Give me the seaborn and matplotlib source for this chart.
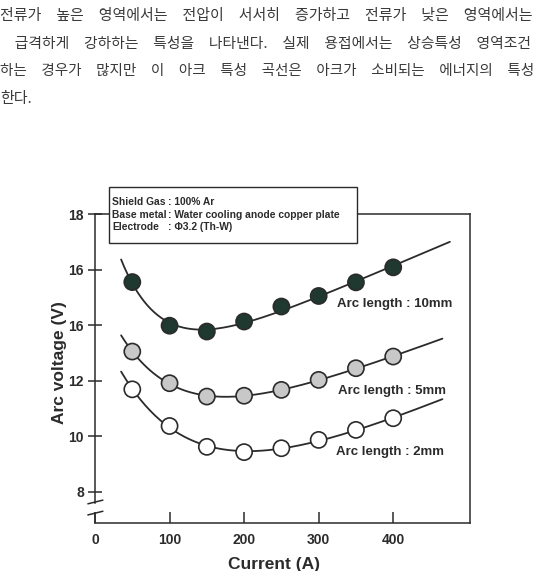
import matplotlib.pyplot as plt
from matplotlib.patches import Rectangle
import seaborn as sns
import pandas as pd
import numpy as np

# data
current = [50, 100, 150, 200, 250, 300, 350, 400]
volt_10mm = [15.55, 13.98, 13.77, 14.13, 14.67, 15.05, 15.54, 16.08]
volt_5mm = [13.05, 11.91, 11.43, 11.46, 11.67, 12.03, 12.45, 12.87]
volt_2mm = [11.69, 10.37, 9.62, 9.43, 9.57, 9.87, 10.23, 10.65]

arc_lengths = ["10mm", "5mm", "2mm"]
curve_span = {"10mm": (35, 476), "5mm": (35, 466), "2mm": (35, 466)}

x_ticks = [0, 100, 200, 300, 400]
y_ticks = [8, 10, 12, 14, 16, 18]
y_tick_labels = ["8", "10", "12", "16", "16", "18"]   # as printed in the source

box_keys = ["Shield Gas", "Base metal", "Electrode"]
box_vals = [": 100% Ar", ": Water cooling anode copper plate", ": \u03a63.2 (Th-W)"]

korean_lines = [
    "전류가 높은 영역에서는 전압이 서서히 증가하고 전류가 낮은 영역에서는",
    " 급격하게 강하하는 특성을 나타낸다. 실제 용접에서는 상승특성 영역조건",
    "하는 경우가 많지만 이 아크 특성 곡선은 아크가 소비되는 에너지의 특성",
    "한다.",
]
korean_sizes = [10.8, 10.65, 10.5, 10.8]   # justified lines in the scan

df = pd.DataFrame({
    "current": current * 3,
    "voltage": volt_10mm + volt_5mm + volt_2mm,
    "arc": [a for a in arc_lengths for _ in current],
})


def trend(x, y, span):
    # least squares fit of a + b*x + c*exp(-x/tau), tau picked by grid search
    x = np.asarray(x, float)
    y = np.asarray(y, float)
    best = None
    for tau in np.arange(56, 121, 2):
        A = np.column_stack([np.ones_like(x), x, np.exp(-x / tau)])
        coef = np.linalg.lstsq(A, y, rcond=None)[0]
        err = np.sum((A @ coef - y) ** 2)
        if best is None or err < best[0]:
            best = (err, tau, coef)
    _, tau, coef = best
    xs = np.linspace(span[0], span[1], 200)
    ys = coef[0] + coef[1] * xs + coef[2] * np.exp(-xs / tau)
    return pd.DataFrame({"current": xs, "voltage": ys})


sns.set_style("ticks")
plt.rcParams["font.family"] = ["Liberation Sans", "DejaVu Sans"]

ink = "#2b2b2b"
fig = plt.figure(figsize=(5.35, 5.71), dpi=100)
ax = fig.add_axes([0.1776, 0.0841, 0.7009, 0.5411])

for arc in arc_lengths:
    sub = df[df["arc"] == arc]
    fit = trend(sub["current"], sub["voltage"], curve_span[arc])
    sns.lineplot(data=fit, x="current", y="voltage", color=ink, lw=1.3,
                 zorder=2, ax=ax)

sns.scatterplot(data=df, x="current", y="voltage", hue="arc",
                palette={"10mm": "#1f3830", "5mm": "#c8c8c8", "2mm": "white"},
                s=135, edgecolor=ink, linewidth=1.2, legend=False, zorder=3, ax=ax)

ax.set_xlim(0, 503)
ax.set_ylim(6.88, 18)
ax.set_xticks(x_ticks)
ax.set_yticks(y_ticks)
ax.set_yticklabels(y_tick_labels)
ax.tick_params(axis="x", direction="in", length=8, width=1.1, pad=7,
               labelsize=10, colors=ink)
ax.tick_params(axis="y", direction="inout", length=10, width=1.1, pad=3,
               labelsize=10, colors=ink)
for lab in ax.get_xticklabels() + ax.get_yticklabels():
    lab.set_fontweight("bold")

for side in ["left", "right", "top", "bottom"]:
    ax.spines[side].set_visible(True)
    ax.spines[side].set_color(ink)
    ax.spines[side].set_linewidth(1.1)

# axis break on the left spine
ax.spines["left"].set_bounds(7.6, 18)
ax.plot([0, 0], [0, 0.032], transform=ax.transAxes, color=ink, lw=1.1, clip_on=False)
for yb in [0.068, 0.032]:
    ax.plot([-0.019, 0.021], [yb - 0.006, yb + 0.006], transform=ax.transAxes,
            color=ink, lw=1.1, clip_on=False)

ax.set_xlabel("Current (A)", fontsize=12.5, fontweight="bold", color=ink)
ax.set_ylabel("Arc voltage (V)", fontsize=12.5, fontweight="bold", color=ink)
ax.xaxis.set_label_coords(0.477, -0.111)
ax.yaxis.set_label_coords(-0.075, 0.518)

ax.text(325, 14.75, "Arc length : 10mm", fontsize=9.5, fontweight="bold", va="center", color=ink)
ax.text(326, 11.64, "Arc length : 5mm", fontsize=9.5, fontweight="bold", va="center", color=ink)
ax.text(323, 9.42, "Arc length : 2mm", fontsize=9.5, fontweight="bold", va="center", color=ink)

# condition box over the top spine
W, H = 535, 571
fig.add_artist(Rectangle((109 / W, 1 - 243 / H), (357 - 109) / W, (243 - 187) / H,
                         transform=fig.transFigure, facecolor="white",
                         edgecolor=ink, lw=1.0, zorder=5))
for i, (k, v) in enumerate(zip(box_keys, box_vals)):
    yy = 1 - (202 + i * 12.7) / H
    fig.text(112 / W, yy, k, fontsize=7.4, fontweight="bold", va="center", color=ink, zorder=6)
    fig.text(168 / W, yy, v, fontsize=7.4, fontweight="bold", va="center", color=ink, zorder=6)

# Korean paragraph at the top of the page
for i, (line, size) in enumerate(zip(korean_lines, korean_sizes)):
    fig.text(0, 1 - (16 + i * 27.7) / H, line.replace(" ", "\u3000"), fontsize=size,
             family=["Noto Sans CJK KR", "DejaVu Sans"], color="#3a3a3a", va="center")

fig.savefig("out.png", dpi=100, facecolor="white")
